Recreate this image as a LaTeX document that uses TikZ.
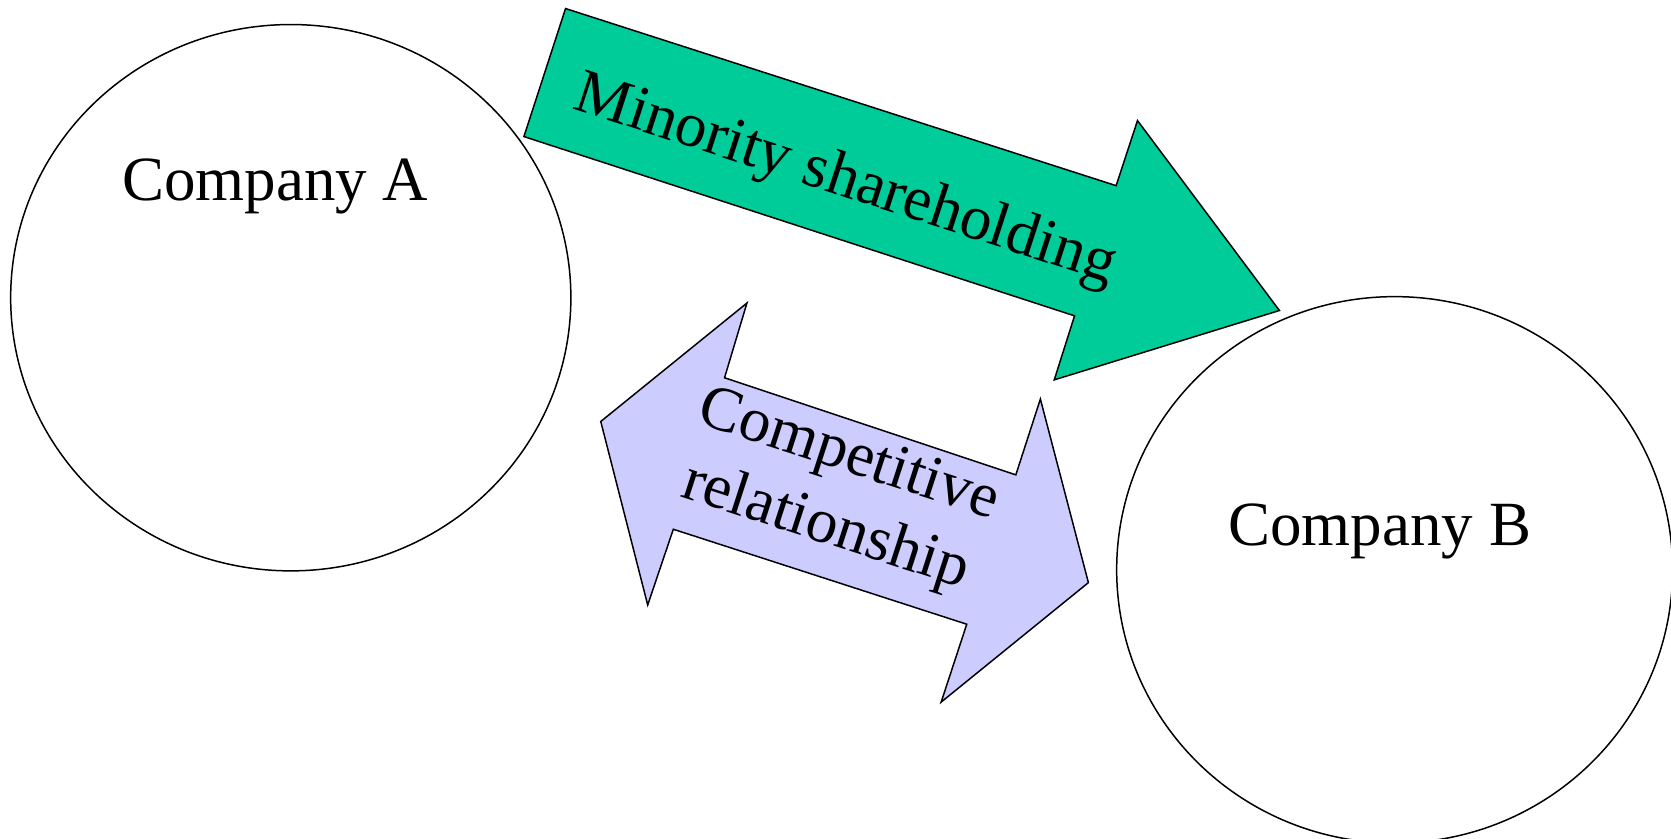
\documentclass[tikz,border=0pt]{standalone}
\usepackage{fontspec}
\setmainfont{Liberation Serif}
\usetikzlibrary{shapes.geometric}
\definecolor{mintgreen}{HTML}{00CC99}
\definecolor{lavender}{HTML}{CCCCFF}
\tikzset{
  company/.style={draw=black, line width=1.4pt, ellipse, fill=white},
  bigarrow/.style={draw=black, line width=1.4pt, line join=miter},
  lbl/.style={font=\fontsize{59}{64}\selectfont, inner sep=0pt},
}
\begin{document}
\begin{tikzpicture}[x=1pt, y=-1pt]
\useasboundingbox (0,0) rectangle (1566,786);
\node[company, minimum width=525pt, minimum height=512pt] (A) at (272.5,279) {};
\node[company, minimum width=521pt, minimum height=512pt] (B) at (1307,534) {};
\node[lbl] (tA) at (258,175) {Company A};
\node[lbl] (tB) at (1293,498) {Company B};
% green arrow
\draw[bigarrow, fill=mintgreen] (491,128) -- (530,8) -- (1046,174) -- (1066,113) -- (1199,291) -- (988,356) -- (1007,296) -- cycle;
% purple double arrow
\draw[bigarrow, fill=lavender] (563,395) -- (700,284) -- (679,354) -- (952,445) -- (975,374) -- (1020,546) -- (882,658) -- (906,585) -- (631,496) -- (607,567) -- cycle;
\node[lbl, rotate=-18] (tM) at (792,170) {Minority shareholding};
\node[lbl, rotate=-18, align=center, font=\fontsize{59}{70}\selectfont] (tC) at (784,462) {Competitive\\relationship};
\end{tikzpicture}
\end{document}
